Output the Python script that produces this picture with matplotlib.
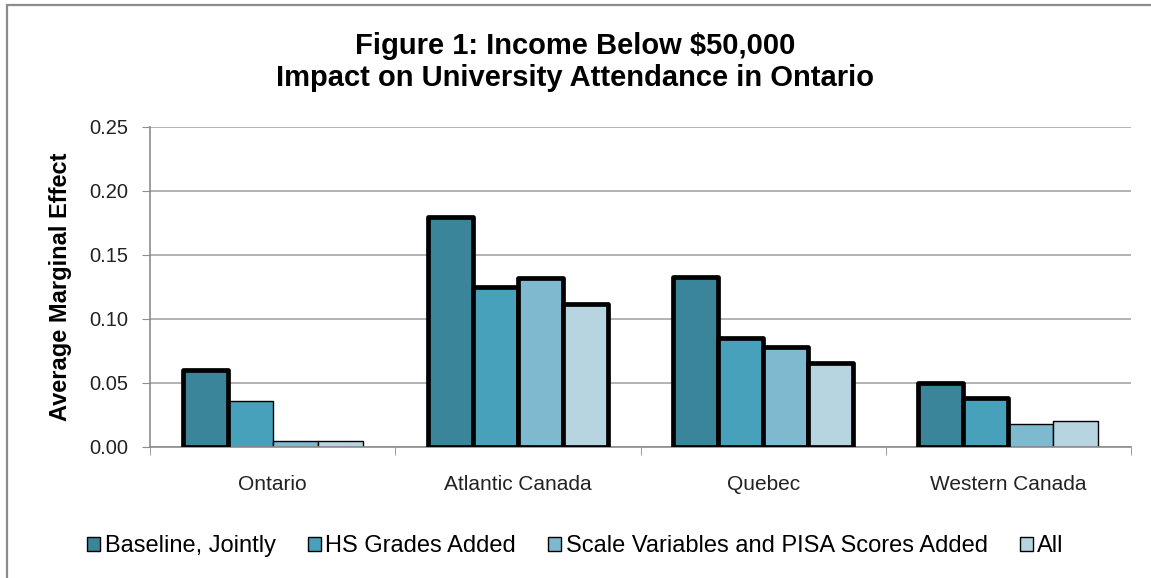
import matplotlib
matplotlib.use("Agg")
import matplotlib.pyplot as plt
import numpy as np
from matplotlib.patches import Rectangle

plt.rcParams['font.family'] = ['Liberation Sans', 'DejaVu Sans']

regions = ["Ontario", "Atlantic Canada", "Quebec", "Western Canada"]
series_names = ["Baseline, Jointly", "HS Grades Added",
                "Scale Variables and PISA Scores Added", "All"]
baseline = [0.060, 0.180, 0.133, 0.050]
hs_grades = [0.036, 0.125, 0.085, 0.038]
scale_pisa = [0.005, 0.132, 0.078, 0.018]
all_vars = [0.005, 0.112, 0.066, 0.020]
# statistically significant estimates are outlined with a heavy border
sig_baseline = [True, True, True, True]
sig_hs = [False, True, True, True]
sig_scale = [False, True, True, False]
sig_all = [False, True, True, False]

values = [baseline, hs_grades, scale_pisa, all_vars]
significant = [sig_baseline, sig_hs, sig_scale, sig_all]
colors = ["#3A8599", "#47A1BA", "#7FB9CF", "#B7D5E0"]
y_ticks = [0.00, 0.05, 0.10, 0.15, 0.20, 0.25]

W, H = 1151, 578
fig = plt.figure(figsize=(W / 100, H / 100), dpi=100)
fig.patch.set_facecolor("white")

# chart frame (runs off the right and bottom edges)
fig.add_artist(Rectangle((6.5 / W, -0.02), 1.2, (H - 5.5) / H + 0.02,
                         transform=fig.transFigure, fill=False,
                         edgecolor="#8C8C8C", linewidth=1.6))

ax_l, ax_r, ax_t, ax_b = 150, 1131, 127, 447
ax = fig.add_axes([ax_l / W, (H - ax_b) / H, (ax_r - ax_l) / W, (ax_b - ax_t) / H])

n_series = len(values)
group_w = 0.733
bar_w = group_w / n_series
x = np.arange(len(regions))
for i, (vals, sig, col) in enumerate(zip(values, significant, colors)):
    offs = x - group_w / 2 + bar_w * (i + 0.5)
    for xo, v, s in zip(offs, vals, sig):
        ax.bar(xo, v, width=bar_w, color=col, edgecolor="black",
               linewidth=3.4 if s else 1.0, joinstyle="round",
               zorder=3 if s else 2)

ax.set_xlim(-0.5, len(regions) - 0.5)
ax.set_ylim(0, 0.25)
ax.set_yticks(y_ticks)
ax.set_yticklabels([f"{t:.2f}" for t in y_ticks], fontsize=14.5, color="#222222")
ax.set_xticks(x)
ax.set_xticklabels(regions, fontsize=15, color="#222222")
ax.xaxis.set_tick_params(length=0, pad=20)
ax.set_xticks(np.arange(len(regions) + 1) - 0.5, minor=True)
ax.tick_params(axis="x", which="minor", length=6, direction="out", color="#8C8C8C")
ax.tick_params(axis="y", length=6, direction="out", color="#8C8C8C", pad=10)
ax.grid(axis="y", color="#A6A6A6", linewidth=1.2, zorder=0)
ax.set_axisbelow(True)
for side in ["top", "right"]:
    ax.spines[side].set_visible(False)
for side in ["left", "bottom"]:
    ax.spines[side].set_color("#8C8C8C")
    ax.spines[side].set_linewidth(1.2)

ax.set_ylabel("Average Marginal Effect", fontsize=17, fontweight="bold", labelpad=12)

fig.text(0.5, (H - 46) / H, "Figure 1: Income Below $50,000",
         ha="center", va="center", fontsize=21, fontweight="bold")
fig.text(0.5, (H - 78) / H, "Impact on University Attendance in Ontario",
         ha="center", va="center", fontsize=21, fontweight="bold")

handles = [Rectangle((0, 0), 1, 1, facecolor=c, edgecolor="black", linewidth=1.0)
           for c in colors]
fig.legend(handles, series_names, loc="center", bbox_to_anchor=(0.5, (H - 546) / H),
           ncol=4, frameon=False, fontsize=17, handlelength=0.55, handleheight=0.55,
           handletextpad=0.2, columnspacing=1.35)

fig.savefig("out.png", dpi=100)
